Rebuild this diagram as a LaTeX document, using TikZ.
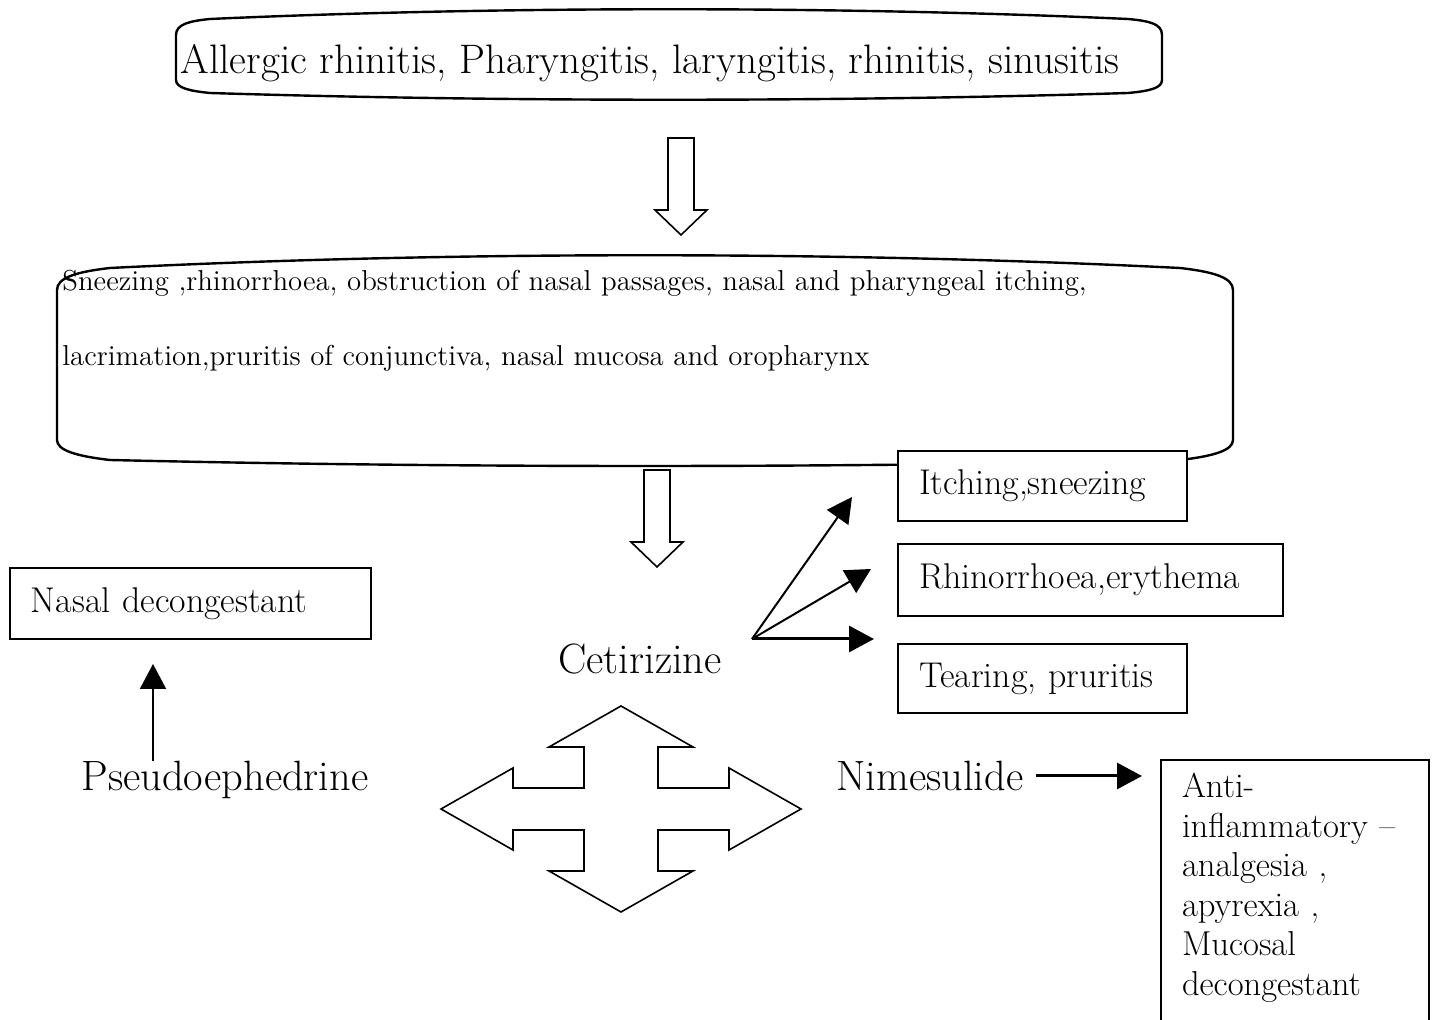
\documentclass[tikz,border=0pt]{standalone}
\usetikzlibrary{arrows.meta}
\newcommand\toptext{\fontsize{20.6}{24}\selectfont}
\newcommand\bigtext{\fontsize{21.2}{25}\selectfont}
\newcommand\boxtext{\fontsize{17.9}{20}\selectfont}
\newcommand\antitext{\fontsize{17.3}{19.8}\selectfont}
\newcommand\listtext{\fontsize{14.4}{37.5}\selectfont}
\begin{document}
\begin{tikzpicture}[x=0.5pt,y=-0.5pt,
        box/.style = {draw, fill=white, line width=1pt, anchor=north west,
                      inner xsep=10.5pt, align=left, font=\boxtext},
        label/.style = {font=\bigtext, inner sep=0pt},
        hollow/.style = {draw, line width=0.8pt, line join=miter},
        arrow/.style = {line width=1pt, -{Triangle[length=12.5pt,width=13pt]}}]
    \useasboundingbox (0,0) rectangle (1432,1020);

    % disorders
    \draw[line width=1.2pt] (176,80) -- (176,35)
        .. controls (176,24) and (190,21) .. (210,19)
        .. controls (500,6) and (840,6) .. (1128,19)
        .. controls (1150,21) and (1162,24) .. (1162,35) -- (1162,80)
        .. controls (1162,88) and (1150,91) .. (1128,93)
        .. controls (840,102) and (500,102) .. (210,93)
        .. controls (190,91) and (176,88) .. (176,80) -- cycle;
    \node[font=\toptext, inner sep=0pt] (causes) at (650,63)
        {Allergic rhinitis, Pharyngitis, laryngitis, rhinitis, sinusitis};

    % symptoms
    \draw[line width=1.2pt] (57,440) -- (57,290)
        .. controls (57,278) and (75,272) .. (110,268)
        .. controls (450,251) and (840,251) .. (1180,268)
        .. controls (1215,272) and (1233,278) .. (1233,290) -- (1233,440)
        .. controls (1233,450) and (1215,456) .. (1180,460)
        .. controls (840,468) and (450,468) .. (110,460)
        .. controls (75,456) and (57,450) .. (57,440) -- cycle;
    \node[font=\listtext, inner sep=0pt, anchor=north west, text width=570pt,
          align=left] (symptoms) at (62,270)
        {Sneezing ,rhinorrhoea, obstruction of nasal passages, nasal and pharyngeal itching,\\
         lacrimation,pruritis of conjunctiva, nasal mucosa and oropharynx};

    \foreach \p in {(668,138),(644,470)}
        \draw[hollow] \p -- ++(26,0) -- ++(0,72) -- ++(13,0) -- ++(-26,25)
            -- ++(-26,-25) -- ++(13,0) -- cycle;

    % cetirizine
    \node[label] (cet) at (640,659) {Cetirizine};
    \node[box, text width=123.5pt, minimum height=35pt] (itch) at (897,450) {Itching,sneezing};
    \node[box, text width=171.5pt, minimum height=36pt] (rhino) at (897,543) {Rhinorrhoea,erythema};
    \node[box, text width=123.5pt, minimum height=34.5pt] (tear) at (897,643) {Tearing, pruritis};

    \coordinate (fork) at (752,639);
    \coordinate (tipA) at (852,497);
    \coordinate (tipB) at (871,569);
    \coordinate (tipC) at (874,639);
    \draw[arrow] (fork) -- (tipA);
    \draw[arrow] (fork) -- (tipB);
    \draw[arrow, line width=1.5pt] (fork) -- (tipC);

    % pseudoephedrine
    \node[box, text width=159.5pt, minimum height=35.5pt] (nasal) at (9,567) {Nasal decongestant};
    \node[label] (pseudo) at (225,780) {Pseudoephedrine};
    \draw[arrow, shorten >=12pt] ([xshift=-36pt]pseudo.north)
        -- ([xshift=-36pt]pseudo.north |- nasal.south);

    % nimesulide
    \node[label] (nime) at (930,776) {Nimesulide};
    \node[box, font=\antitext, text width=113pt, inner ysep=6.5pt, text depth=116pt] (anti) at (1160,759)
        {Anti-\\ inflammatory~--\\ analgesia ,\\ apyrexia ,\\ Mucosal\\ decongestant};
    \draw[arrow, line width=1.5pt] ([xshift=6pt]nime.east) -- ([xshift=-9pt]nime.east -| anti.west);

    % four-way arrow
    \draw[hollow, shift={(621,809)}] (0,-103) -- (72,-62) -- (37,-62) -- (37,-21)
        -- (108,-21) -- (108,-41) -- (180,0) -- (108,41) -- (108,21) -- (37,21)
        -- (37,62) -- (72,62) -- (0,103) -- (-72,62) -- (-37,62) -- (-37,21)
        -- (-108,21) -- (-108,41) -- (-180,0) -- (-108,-41) -- (-108,-21)
        -- (-37,-21) -- (-37,-62) -- (-72,-62) -- cycle;
\end{tikzpicture}
\end{document}
